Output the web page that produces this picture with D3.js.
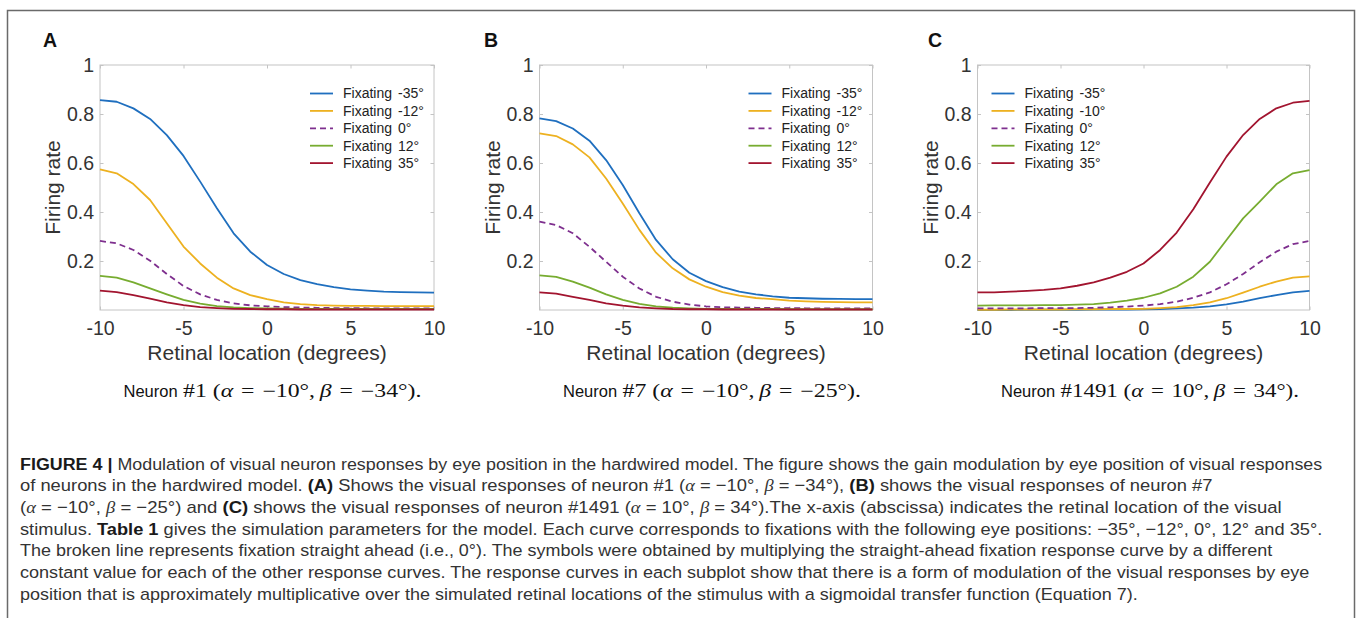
<!DOCTYPE html>
<html>
<head>
<meta charset="utf-8">
<script src="https://cdn.jsdelivr.net/npm/d3@7"></script>
<style>
  body { margin: 0; background: #fff; }
  svg text { font-family: "Liberation Sans", Arial, sans-serif; }
</style>
</head>
<body>
<svg id="fig" width="1357" height="618"></svg>
<script>
// Data (firing rate vs retinal location)
const retinal = [-10, -9, -8, -7, -6, -5, -4, -3, -2, -1, 0, 1, 2, 3, 4, 5, 6, 7, 8, 9, 10];
const xTicks = [-10, -5, 0, 5, 10];
const yTicks = [0.2, 0.4, 0.6, 0.8, 1];

const fixLabelsAB = ['-35°', '-12°', '0°', '12°', '35°'];
const fixLabelsC = ['-35°', '-10°', '0°', '12°', '35°'];

// Neuron #1
const n1_m35 = [0.857, 0.850, 0.823, 0.780, 0.714, 0.629, 0.524, 0.415, 0.313, 0.238, 0.184, 0.147, 0.122, 0.106, 0.093, 0.084, 0.079, 0.075, 0.073, 0.072, 0.071];
const n1_m12 = [0.574, 0.558, 0.514, 0.449, 0.354, 0.259, 0.190, 0.132, 0.088, 0.061, 0.044, 0.031, 0.024, 0.020, 0.018, 0.017, 0.017, 0.016, 0.016, 0.016, 0.016];
const n1_0 = [0.282, 0.272, 0.245, 0.201, 0.147, 0.098, 0.064, 0.041, 0.027, 0.019, 0.015, 0.012, 0.010, 0.009, 0.008, 0.008, 0.007, 0.007, 0.007, 0.007, 0.007];
const n1_12 = [0.139, 0.132, 0.113, 0.088, 0.064, 0.041, 0.026, 0.016, 0.011, 0.008, 0.007, 0.006, 0.005, 0.005, 0.004, 0.004, 0.004, 0.004, 0.004, 0.004, 0.004];
const n1_35 = [0.079, 0.073, 0.061, 0.046, 0.031, 0.020, 0.012, 0.008, 0.005, 0.004, 0.003, 0.003, 0.002, 0.002, 0.002, 0.002, 0.002, 0.002, 0.002, 0.002, 0.002];

// Neuron #7
const n7_m35 = [0.782, 0.771, 0.741, 0.691, 0.612, 0.510, 0.395, 0.286, 0.207, 0.152, 0.118, 0.093, 0.075, 0.064, 0.056, 0.050, 0.048, 0.046, 0.045, 0.044, 0.044];
const n7_m12 = [0.721, 0.710, 0.676, 0.623, 0.537, 0.435, 0.327, 0.234, 0.170, 0.125, 0.095, 0.073, 0.059, 0.049, 0.044, 0.038, 0.035, 0.033, 0.032, 0.031, 0.031];
const n7_0 = [0.361, 0.347, 0.313, 0.258, 0.197, 0.136, 0.088, 0.054, 0.034, 0.022, 0.015, 0.011, 0.010, 0.009, 0.008, 0.008, 0.007, 0.007, 0.007, 0.007, 0.007];
const n7_12 = [0.141, 0.135, 0.116, 0.091, 0.064, 0.041, 0.025, 0.015, 0.010, 0.007, 0.005, 0.005, 0.004, 0.004, 0.004, 0.003, 0.003, 0.003, 0.003, 0.003, 0.003];
const n7_35 = [0.072, 0.067, 0.054, 0.041, 0.027, 0.018, 0.011, 0.007, 0.004, 0.003, 0.003, 0.002, 0.002, 0.002, 0.002, 0.002, 0.002, 0.002, 0.002, 0.002, 0.002];

// Neuron #1491
const n1491_m35 = [0.000, 0.000, 0.000, 0.001, 0.001, 0.001, 0.001, 0.002, 0.002, 0.002, 0.003, 0.004, 0.007, 0.010, 0.015, 0.023, 0.034, 0.048, 0.061, 0.072, 0.078];
const n1491_m10 = [0.001, 0.001, 0.002, 0.002, 0.002, 0.002, 0.003, 0.003, 0.004, 0.004, 0.005, 0.008, 0.012, 0.020, 0.031, 0.048, 0.071, 0.095, 0.116, 0.132, 0.137];
const n1491_0 = [0.007, 0.007, 0.007, 0.007, 0.008, 0.008, 0.008, 0.009, 0.011, 0.014, 0.018, 0.024, 0.034, 0.050, 0.072, 0.105, 0.147, 0.195, 0.238, 0.269, 0.282];
const n1491_12 = [0.018, 0.019, 0.019, 0.019, 0.020, 0.020, 0.022, 0.024, 0.030, 0.038, 0.050, 0.068, 0.095, 0.136, 0.197, 0.286, 0.374, 0.442, 0.513, 0.558, 0.571];
const n1491_35 = [0.072, 0.072, 0.075, 0.078, 0.082, 0.088, 0.099, 0.113, 0.132, 0.156, 0.190, 0.245, 0.316, 0.411, 0.520, 0.626, 0.714, 0.780, 0.823, 0.846, 0.854];

const colors = ['#1f6fbf', '#edb120', '#7e2f8e', '#77ac30', '#a2142f'];

const panels = [
  { tag: 'A', tagX: 43, left: 100, width: 334, series: [n1_m35, n1_m12, n1_0, n1_12, n1_35], labels: fixLabelsAB,
    legendX: 210, neuron: '#1', alpha: '−10°', beta: '−34°' },
  { tag: 'B', tagX: 484, left: 539.5, width: 333, series: [n7_m35, n7_m12, n7_0, n7_12, n7_35], labels: fixLabelsAB,
    legendX: 209, neuron: '#7', alpha: '−10°', beta: '−25°' },
  { tag: 'C', tagX: 928, left: 977.5, width: 332, series: [n1491_m35, n1491_m10, n1491_0, n1491_12, n1491_35], labels: fixLabelsC,
    legendX: 14, neuron: '#1491', alpha: '10°', beta: '34°' }
];

const svg = d3.select('#fig');
const plotTop = 65, plotH = 245;
const serifFont = '"Liberation Serif", "DejaVu Serif", serif';

// outer frame
svg.append('rect')
  .attr('x', 7.5).attr('y', 10.5)
  .attr('width', 1347).attr('height', 640)
  .attr('fill', 'none').attr('stroke', '#6a6a6a').attr('stroke-width', 1.5);

panels.forEach(p => {
  const g = svg.append('g').attr('transform', `translate(${p.left},${plotTop})`);
  const x = d3.scaleLinear().domain([-10, 10]).range([0, p.width]);
  const y = d3.scaleLinear().domain([0, 1]).range([plotH, 0]);

  // box
  g.append('rect')
    .attr('width', p.width).attr('height', plotH)
    .attr('fill', 'none').attr('stroke', '#c4c4c4').attr('stroke-width', 1);

  const styleAxis = sel => {
    sel.select('.domain').remove();
    sel.selectAll('line').attr('stroke', '#c4c4c4');
    sel.selectAll('text').attr('fill', '#333').style('font-size', '19.5px');
  };

  g.append('g').attr('transform', `translate(0,${plotH})`)
    .call(d3.axisBottom(x).tickValues(xTicks).tickSize(-3.5).tickPadding(11).tickFormat(d => String(d)))
    .call(styleAxis);
  g.append('g')
    .call(d3.axisTop(x).tickValues(xTicks).tickSize(-3.5).tickFormat(''))
    .call(styleAxis);
  g.append('g')
    .call(d3.axisLeft(y).tickValues(yTicks).tickSize(-3.5).tickPadding(6).tickFormat(d => d === 1 ? '1' : d3.format('.1f')(d)))
    .call(styleAxis);
  g.append('g').attr('transform', `translate(${p.width},0)`)
    .call(d3.axisRight(y).tickValues(yTicks).tickSize(-3.5).tickFormat(''))
    .call(styleAxis);

  // curves
  const line = d3.line().x((d, i) => x(retinal[i])).y(d => y(d));
  p.series.forEach((s, k) => {
    g.append('path')
      .datum(s)
      .attr('d', line)
      .attr('fill', 'none')
      .attr('stroke', colors[k])
      .attr('stroke-width', 1.8)
      .attr('stroke-linejoin', 'round')
      .attr('stroke-dasharray', k === 2 ? '6,4' : null);
  });

  // legend
  const lg = g.append('g').attr('transform', `translate(${p.legendX},28.5)`);
  p.labels.forEach((lab, k) => {
    const row = lg.append('g').attr('transform', `translate(0,${k * 17.4})`);
    row.append('line').attr('x1', 0).attr('x2', 23)
      .attr('stroke', colors[k]).attr('stroke-width', 1.8)
      .attr('stroke-dasharray', k === 2 ? '6,4' : null);
    row.append('text').attr('x', 33).attr('dy', '0.35em')
      .style('font-size', '14px').attr('fill', '#222').text('Fixating');
    row.append('text').attr('x', 88).attr('dy', '0.35em')
      .style('font-size', '14px').attr('fill', '#222').text(lab);
  });

  // axis titles
  g.append('text')
    .attr('transform', `translate(-40,${plotH / 2}) rotate(-90)`)
    .attr('text-anchor', 'middle')
    .style('font-size', '21px').attr('fill', '#333')
    .text('Firing rate');
  g.append('text')
    .attr('x', p.width / 2).attr('y', 295)
    .attr('text-anchor', 'middle')
    .style('font-size', '21px').attr('fill', '#333')
    .text('Retinal location (degrees)');

  // panel tag
  svg.append('text')
    .attr('x', p.tagX).attr('y', 47)
    .style('font-size', '19.5px').style('font-weight', 'bold').attr('fill', '#111')
    .text(p.tag);

  // subcaption: "Neuron" in sans, the rest typeset like math
  g.append('text')
    .attr('x', 23.5).attr('y', 332)
    .style('font-size', '16.5px').attr('fill', '#111')
    .text('Neuron');
  const mathX0 = 83, mathX1 = 321.5;
  const m = g.append('text')
    .attr('x', 0).attr('y', 0)
    .style('font-family', serifFont).style('font-size', '18px').attr('fill', '#111');
  const add = (t, ital) => {
    const ts = m.append('tspan').text(t);
    if (ital) ts.style('font-style', 'italic');
  };
  add(p.neuron + ' (');
  add('α', true);
  add('\u2004=\u2004' + p.alpha + ',\u2009');
  add('β', true);
  add('\u2004=\u2004' + p.beta + ').');
  const mw = m.node().getBBox().width;
  m.attr('transform', `translate(${mathX0},332) scale(${(mathX1 - mathX0) / mw},1)`);
});

// figure caption
const capLines = [
  { end: 1323, parts: [['FIGURE 4 | ', 'b'], ['Modulation of visual neuron responses by eye position in the hardwired model. The figure shows the gain modulation by eye position of visual responses']] },
  { end: 1213, parts: [['of neurons in the hardwired model. '], ['(A)', 'b'], [' Shows the visual responses of neuron #1 ('], ['α', 'i'], [' = −10°, '], ['β', 'i'], [' = −34°), '], ['(B)', 'b'], [' shows the visual responses of neuron #7']] },
  { end: 1282, parts: [['('], ['α', 'i'], [' = −10°, '], ['β', 'i'], [' = −25°) and '], ['(C)', 'b'], [' shows the visual responses of neuron #1491 ('], ['α', 'i'], [' = 10°, '], ['β', 'i'], [' = 34°).The x-axis (abscissa) indicates the retinal location of the visual']] },
  { end: 1323, parts: [['stimulus. '], ['Table 1', 'b'], [' gives the simulation parameters for the model. Each curve corresponds to fixations with the following eye positions: −35°, −12°, 0°, 12° and 35°.']] },
  { end: 1274, parts: [['The broken line represents fixation straight ahead (i.e., 0°). The symbols were obtained by multiplying the straight-ahead fixation response curve by a different']] },
  { end: 1310, parts: [['constant value for each of the other response curves. The response curves in each subplot show that there is a form of modulation of the visual responses by eye']] },
  { end: 1138, parts: [['position that is approximately multiplicative over the simulated retinal locations of the stimulus with a sigmoidal transfer function (Equation 7).']] }
];

const capX = 20, capY0 = 469.5, capStep = 21.7;
capLines.forEach((ln, i) => {
  const t = svg.append('text')
    .attr('x', 0).attr('y', 0)
    .style('font-size', '17px').attr('fill', '#333');
  ln.parts.forEach(([txt, st]) => {
    const ts = t.append('tspan').text(txt);
    if (st === 'b') ts.style('font-weight', 'bold').attr('fill', '#1a1a1a');
    if (st === 'i') ts.style('font-family', serifFont).style('font-style', 'italic');
  });
  const w = t.node().getBBox().width;
  const sx = (ln.end - capX) / w;
  t.attr('transform', `translate(${capX},${capY0 + i * capStep}) scale(${sx},1)`);
});
</script>
</body>
</html>
